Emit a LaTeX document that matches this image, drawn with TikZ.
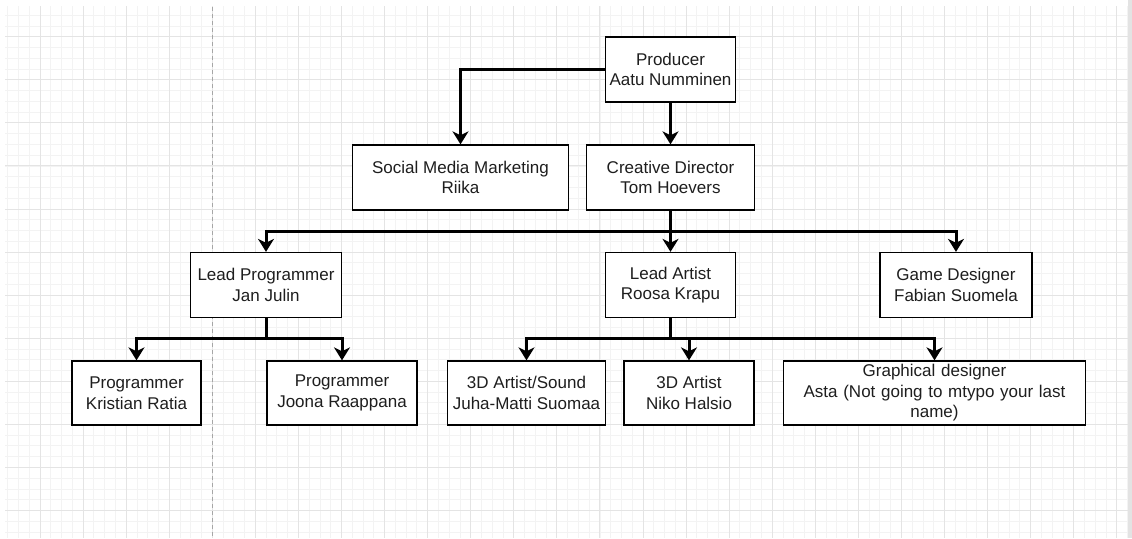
\documentclass[tikz,border=0pt]{standalone}
\usepackage{fontspec}
\setmainfont{Liberation Sans}
\usetikzlibrary{arrows.meta}
\definecolor{minorgrid}{HTML}{F3F3F3}
\definecolor{majorgrid}{HTML}{E4E4E4}
\definecolor{txt}{HTML}{1E1E1E}
\tikzset{
  box/.style={draw=black, line width=1.3pt, fill=white, rectangle, align=center,
    minimum height=65pt, inner sep=2pt, text=txt,
    font=\fontsize{17}{20.5}\selectfont},
  conn/.style={line width=3pt, -{Stealth[length=13pt,width=16pt,inset=4pt]}},
  bar/.style={line width=3pt},
}
\begin{document}
\begin{tikzpicture}[x=1pt,y=-1pt]
\useasboundingbox (0,0) rectangle (1132,538);
\fill[white] (0,0) rectangle (1132,538);
\begin{scope}
\clip (5,6) rectangle (1128,538);
\foreach \i in {-3,...,101} {
  \pgfmathsetmacro{\xx}{40+10.7675*\i}
  \draw[minorgrid, line width=0.8pt] (\xx,0) -- (\xx,538);
}
\foreach \j in {-3,...,47} {
  \pgfmathsetmacro{\yy}{36.7+10.7675*\j}
  \draw[minorgrid, line width=0.8pt] (0,\yy) -- (1132,\yy);
}
\foreach \i in {0,...,25} {
  \pgfmathsetmacro{\xx}{40+43.07*\i}
  \draw[majorgrid, line width=0.9pt] (\xx,0) -- (\xx,538);
}
\foreach \j in {-1,...,12} {
  \pgfmathsetmacro{\yy}{36.7+43.07*\j}
  \draw[majorgrid, line width=0.9pt] (0,\yy) -- (1132,\yy);
}
\draw[gray!70, line width=0.9pt, dash pattern=on 4pt off 3pt] (212.3,0) -- (212.3,538);
\end{scope}
\fill[gray!22] (1128,0) rectangle (1132,538);

% nodes
\node[box, minimum width=130pt] (prod) at (670.5,69.5) {Producer\\Aatu Numminen};
\node[box, minimum width=216pt] (social) at (460.5,177.5) {Social Media Marketing\\Riika};
\node[box, minimum width=168pt] (creative) at (670.5,177.5) {Creative Director\\Tom Hoevers};
\node[box, minimum width=151pt] (leadprog) at (266,285) {Lead Programmer\\Jan Julin};
\node[box, minimum width=130pt] (leadart) at (670.5,285) {Lead Artist\\Roosa Krapu};
\node[box, minimum width=152pt] (gamedes) at (956,285) {Game Designer\\Fabian Suomela};
\node[box, minimum width=129pt, minimum height=64pt] (kristian) at (136.5,393) {Programmer\\Kristian Ratia};
\node[box, minimum width=150pt, minimum height=64pt] (joona) at (342,393) {Programmer\\Joona Raappana};
\node[box, minimum width=158pt, minimum height=64pt] (sound) at (526.5,393) {3D Artist/Sound\\Juha-Matti Suomaa};
\node[box, minimum width=130pt, minimum height=64pt] (niko) at (689,393) {3D Artist\\Niko Halsio};
\node[box, minimum width=302pt, minimum height=64pt, text width=290pt] (graph) at (934.5,393) {Graphical designer\\Asta (Not going to mtypo your last\\name)};

% connectors
\coordinate (b1) at (670.5,231);
\coordinate (b2) at (266,338);
\coordinate (b3) at (670.5,338);
\draw[conn] (prod.west) -| (social.north);
\draw[conn] (prod.south) -- (creative.north);
\draw[conn] (creative.south) -- (leadart.north);
\draw[conn] (b1) -| (leadprog.north);
\draw[conn] (b1) -| (gamedes.north);
\draw[bar] (leadprog.south) -- (b2);
\draw[conn] (b2) -| (kristian.north);
\draw[conn] (b2) -| (joona.north);
\draw[bar] (leadart.south) -- (b3);
\draw[conn] (b3) -| (sound.north);
\draw[conn] (b3) -| (graph.north);
\draw[conn] (niko.north |- b3) -- (niko.north);
\end{tikzpicture}
\end{document}
